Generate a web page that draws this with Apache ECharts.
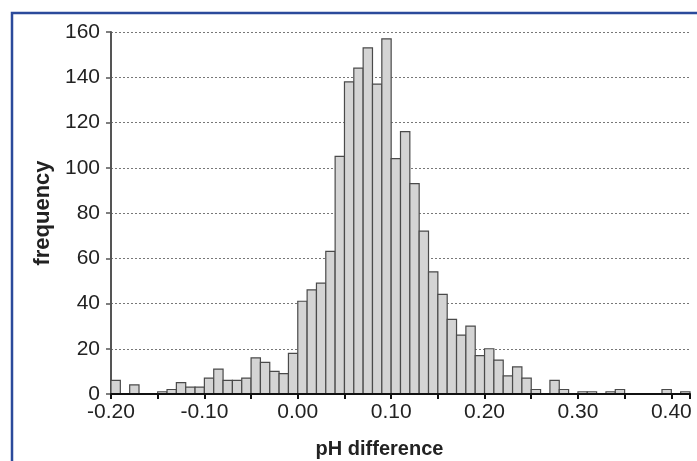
<!DOCTYPE html>
<html>
<head>
<meta charset="utf-8">
<script src="https://cdn.jsdelivr.net/npm/echarts@6/dist/echarts.min.js"></script>
<style>
html, body { margin: 0; padding: 0; background: #fff; }
#main { width: 697px; height: 461px; }
</style>
</head>
<body>
<div id="main"></div>
<script>
// histogram bins: start of each 0.01 wide pH bin
var binStarts = [
    -0.20, -0.19, -0.18, -0.17, -0.16, -0.15, -0.14, -0.13, -0.12, -0.11,
    -0.10, -0.09, -0.08, -0.07, -0.06, -0.05, -0.04, -0.03, -0.02, -0.01,
    0.00, 0.01, 0.02, 0.03, 0.04, 0.05, 0.06, 0.07, 0.08, 0.09,
    0.10, 0.11, 0.12, 0.13, 0.14, 0.15, 0.16, 0.17, 0.18, 0.19,
    0.20, 0.21, 0.22, 0.23, 0.24, 0.25, 0.26, 0.27, 0.28, 0.29,
    0.30, 0.31, 0.32, 0.33, 0.34, 0.35, 0.36, 0.37, 0.38, 0.39,
    0.40, 0.41
];
var frequency = [
    6, 0, 4, 0, 0, 1, 2, 5, 3, 3,
    7, 11, 6, 6, 7, 16, 14, 10, 9, 18,
    41, 46, 49, 63, 105, 138, 144, 153, 137, 157,
    104, 116, 93, 72, 54, 44, 33, 26, 30, 17,
    20, 15, 8, 12, 7, 2, 0, 6, 2, 0,
    1, 1, 0, 1, 2, 0, 0, 0, 0, 2,
    0, 1
];
var binWidth = 0.01;
var xMin = -0.20, xMax = 0.42, xStep = 0.05;
var yMax = 160, yStep = 20;

var font = 'Liberation Sans, Arial, sans-serif';

var data = binStarts.map(function (x, i) { return [x, frequency[i]]; });

var chart = echarts.init(document.getElementById('main'));
var option = {
    backgroundColor: '#fff',
    animation: false,
    grid: { left: 111, right: 7, top: 32, bottom: 67, outerBoundsMode: 'none' },
    graphic: [{
        type: 'rect',
        shape: { x: 12, y: 13, width: 700, height: 460 },
        style: { fill: 'none', stroke: '#2b4a9b', lineWidth: 2.5 },
        silent: true
    }],
    xAxis: {
        type: 'value',
        min: xMin,
        max: xMax,
        interval: xStep,
        z: 5,
        name: 'pH difference',
        nameLocation: 'middle',
        nameGap: 45,
        nameTextStyle: {
            fontFamily: font, fontSize: 20, fontWeight: 'bold', color: '#222',
            padding: [0, 42, 0, 0]
        },
        axisLine: { onZero: false, lineStyle: { color: '#111', width: 2 } },
        axisTick: { length: 5, lineStyle: { color: '#111', width: 2 } },
        axisLabel: {
            fontFamily: font, fontSize: 21, color: '#222', margin: 8,
            formatter: function (v) {
                var k = Math.round(v * 100);
                if (k % 10 !== 0) return '';
                return v.toFixed(2);
            }
        },
        splitLine: { show: false }
    },
    yAxis: {
        type: 'value',
        min: 0,
        max: yMax,
        interval: yStep,
        name: 'frequency',
        nameLocation: 'middle',
        nameGap: 55,
        nameTextStyle: { fontFamily: font, fontSize: 22, fontWeight: 'bold', color: '#222' },
        axisLine: { show: true, onZero: false, lineStyle: { color: '#555', width: 2 } },
        axisTick: { show: true, length: 5, lineStyle: { color: '#555', width: 1.5 } },
        axisLabel: { fontFamily: font, fontSize: 21, color: '#222', margin: 11 },
        splitLine: { show: true, lineStyle: { color: '#777', type: [2, 2], width: 1 } }
    },
    series: [{
        type: 'custom',
        data: data,
        encode: { x: 0, y: 1 },
        renderItem: function (params, api) {
            var x0 = api.value(0), y = api.value(1);
            if (!y) return null;
            var p0 = api.coord([x0, 0]);
            var p1 = api.coord([x0 + binWidth, y]);
            return {
                type: 'rect',
                shape: { x: p0[0], y: p1[1], width: p1[0] - p0[0], height: p0[1] - p1[1] },
                style: { fill: '#d4d4d4', stroke: '#4a4a4a', lineWidth: 1.2 }
            };
        }
    }]
};
chart.setOption(option);
</script>
</body>
</html>
